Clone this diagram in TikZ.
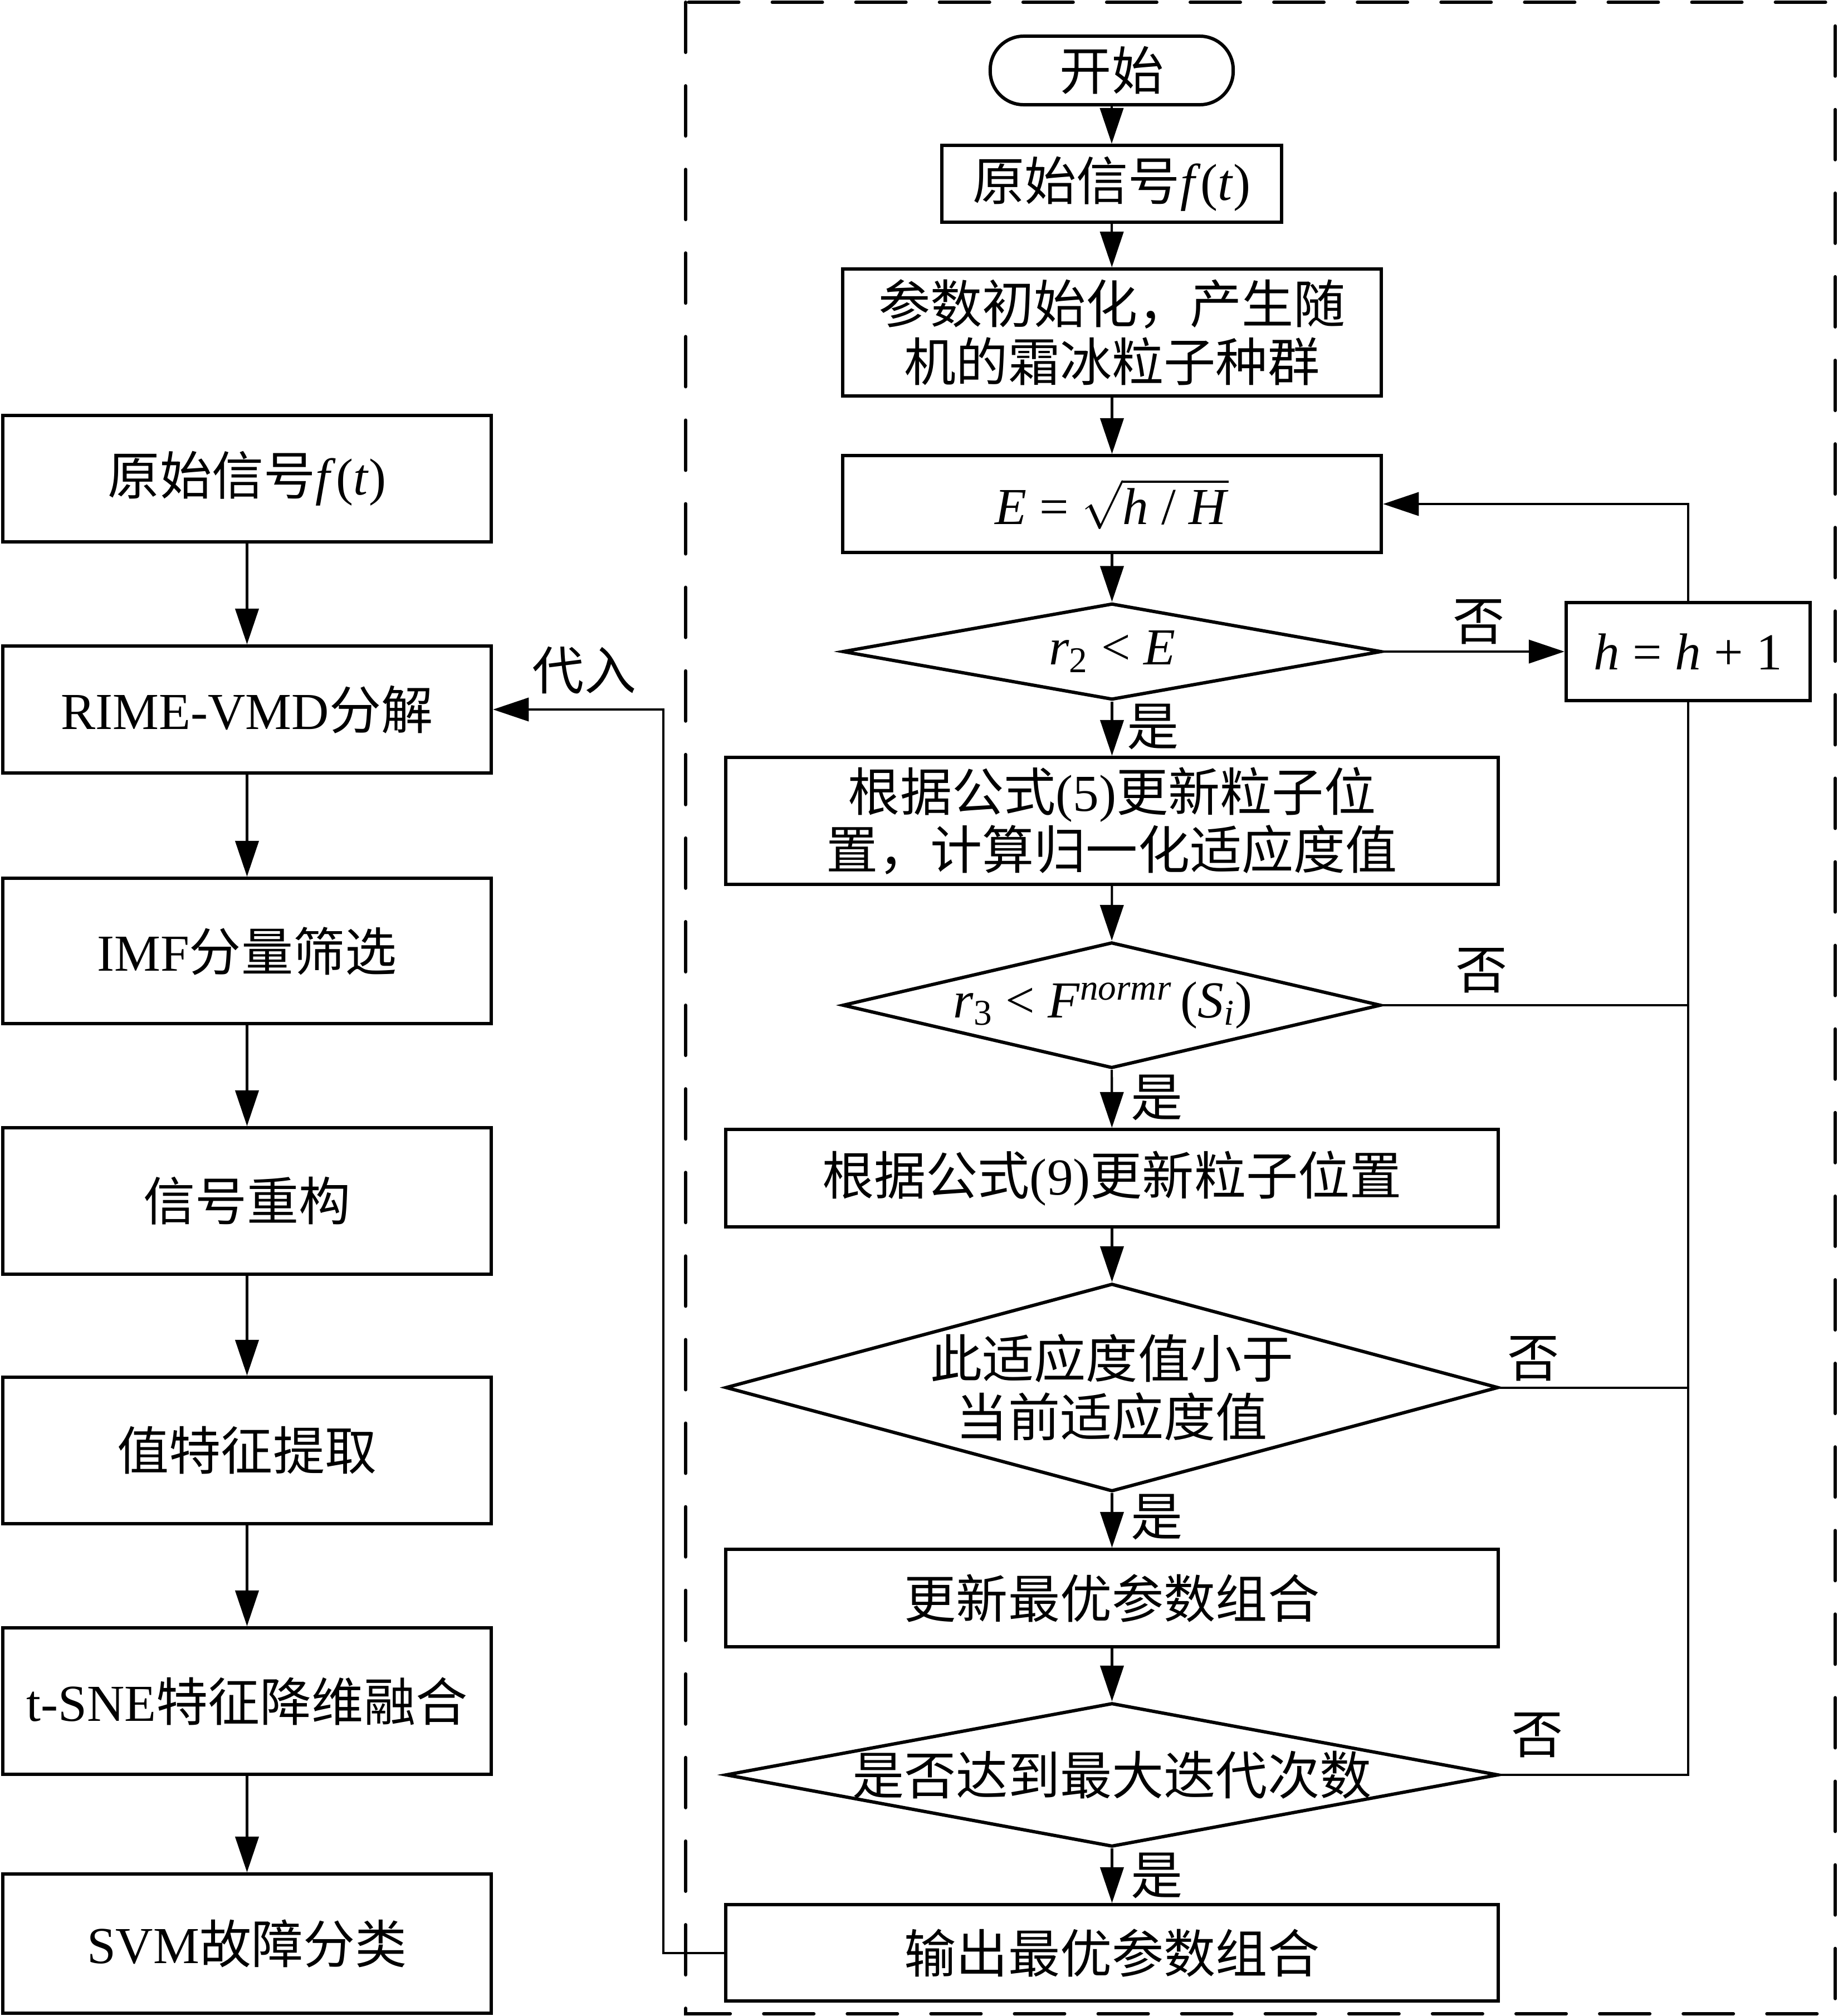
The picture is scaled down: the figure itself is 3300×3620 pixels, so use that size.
\documentclass[tikz,border=0pt]{standalone}
\usepackage{fontspec}
\setmainfont{Liberation Serif}
\newfontfamily\cjk{Noto Sans CJK SC}
\usetikzlibrary{shapes.geometric,arrows.meta}
\begin{document}
\begin{tikzpicture}[x=0.01cm,y=-0.01cm,
  every node/.style={font=\fontsize{26.5}{29.6}\selectfont},
  box/.style={draw, line width=1.7pt, rectangle, inner sep=0pt, align=center},
  dia/.style={draw, line width=1.7pt, diamond, inner sep=0pt},
  txt/.style={inner sep=0pt, align=center},
  arr/.style={line width=1.15pt, -{Triangle[length=0.64cm,width=0.42cm]}},
  ln/.style={line width=1.15pt},
  lbl/.style={inner sep=0pt}
]
\useasboundingbox (0,0) rectangle (3300,3620);
% dashed frame
\draw[line width=1.7pt, line cap=round, dash pattern=on 0.9cm off 0.6cm] (1231,4) rectangle (3295,3616);

% left column
\node[box, minimum width=8.77cm, minimum height=2.27cm] (L1) at (443.5,859.5) {{\cjk 原始信号}\textit{f}(\textit{t})};
\node[box, minimum width=8.77cm, minimum height=2.28cm] (L2) at (443.5,1274) {RIME-VMD{\cjk 分解}};
\node[box, minimum width=8.77cm, minimum height=2.61cm] (L3) at (443.5,1707.5) {IMF{\cjk 分量筛选}};
\node[box, minimum width=8.77cm, minimum height=2.63cm] (L4) at (443.5,2156.5) {\cjk 信号重构};
\node[box, minimum width=8.77cm, minimum height=2.63cm] (L5) at (443.5,2604.5) {\cjk 值特征提取};
\node[box, minimum width=8.77cm, minimum height=2.63cm] (L6) at (443.5,3054.5) {t-SNE{\cjk 特征降维融合}};
\node[box, minimum width=8.77cm, minimum height=2.50cm] (L7) at (443.5,3490) {SVM{\cjk 故障分类}};
\foreach \a/\b in {L1/L2,L2/L3,L3/L4,L4/L5,L5/L6,L6/L7} \draw[arr] (\a) -- (\b);

% right column
\node[draw, line width=1.7pt, rounded corners=0.6cm, minimum width=4.36cm, minimum height=1.23cm, inner sep=0pt] (S) at (1996,126.5) {\cjk 开始};
\node[box, minimum width=6.10cm, minimum height=1.38cm] (R1) at (1996,330) {{\cjk 原始信号}\textit{f}(\textit{t})};
\node[box, minimum width=9.67cm, minimum height=2.28cm] (R2) at (1996.5,597) {{\cjk 参数初始化，产生随}\\{\cjk 机的霜冰粒子种群}};
\node[box, minimum width=9.67cm, minimum height=1.74cm] (R3) at (1996.5,905) {\textit{E} = $\sqrt{\mbox{\textit{h} / \textit{H}}}$};
\node[dia, minimum width=9.67cm, minimum height=1.73cm] (D1) at (1996.5,1170) {};
\node[txt] (D1t) at (D1) {\textit{r}\textsubscript{2} < \textit{E}};
\node[box, minimum width=4.38cm, minimum height=1.76cm] (H) at (3031,1170) {\textit{h} = \textit{h} + 1};
\node[box, minimum width=13.87cm, minimum height=2.28cm] (R4) at (1996.5,1474) {{\cjk 根据公式}(5){\cjk 更新粒子位}\\{\cjk 置，计算归一化适应度值}};
\node[dia, minimum width=9.66cm, minimum height=2.26cm] (D2) at (1996,1805) {};
\node[txt] (D2t) at (1980,1805) {\textit{r}\textsubscript{3} < \textit{F}\textsuperscript{\textit{normr}}\,(\textit{S}\textsubscript{\textit{i}})};
\node[box, minimum width=13.87cm, minimum height=1.75cm] (R5) at (1996.5,2115.5) {{\cjk 根据公式}(9){\cjk 更新粒子位置}};
\node[dia, minimum width=13.87cm, minimum height=3.73cm] (D3) at (1996.5,2491.5) {};
\node[txt] (D3t) at (D3) {{\cjk 此适应度值小于}\\{\cjk 当前适应度值}};
\node[box, minimum width=13.87cm, minimum height=1.75cm] (R6) at (1996.5,2869.5) {\cjk 更新最优参数组合};
\node[dia, minimum width=13.87cm, minimum height=2.58cm] (D4) at (1996.5,3187) {};
\node[txt] (D4t) at (D4) {\cjk 是否达到最大迭代次数};
\node[box, minimum width=13.87cm, minimum height=1.73cm] (R7) at (1996.5,3506.5) {\cjk 输出最优参数组合};

\draw[arr] (S) -- (R1);
\draw[arr] (R1) -- (R2);
\draw[arr] (R2) -- (R3);
\draw[arr] (R3) -- (D1);
\draw[arr] (D1) -- (R4);
\draw[arr] (R4) -- (D2);
\draw[arr] (D2) -- (R5);
\draw[arr] (R5) -- (D3);
\draw[arr] (D3) -- (R6);
\draw[arr] (R6) -- (D4);
\draw[arr] (D4) -- (R7);

% loop
\draw[arr] (D1.east) -- (H.west);
\draw[arr] (H.north) |- (R3.east);
\draw[ln] (D4.east) -| (H.south);
\draw[ln] (D2.east) -- (D2.east -| H.south);
\draw[ln] (D3.east) -- (D3.east -| H.south);

% feedback to left
\coordinate (fbx) at (1191,0);
\draw[arr] (R7.west) -- (R7.west -| fbx) |- (L2.east);

% labels
\node[lbl] (dr) at (1049,1204) {\cjk 代入};
\node[lbl] (y1) at (2070,1305) {\cjk 是};
\node[lbl] (y2) at (2077,1971) {\cjk 是};
\node[lbl] (y3) at (2077,2724) {\cjk 是};
\node[lbl] (y4) at (2077,3368) {\cjk 是};
\node[lbl] (n1) at (2655,1117) {\cjk 否};
\node[lbl] (n2) at (2660,1743) {\cjk 否};
\node[lbl] (n3) at (2753,2440) {\cjk 否};
\node[lbl] (n4) at (2760,3116) {\cjk 否};
\end{tikzpicture}
\end{document}
